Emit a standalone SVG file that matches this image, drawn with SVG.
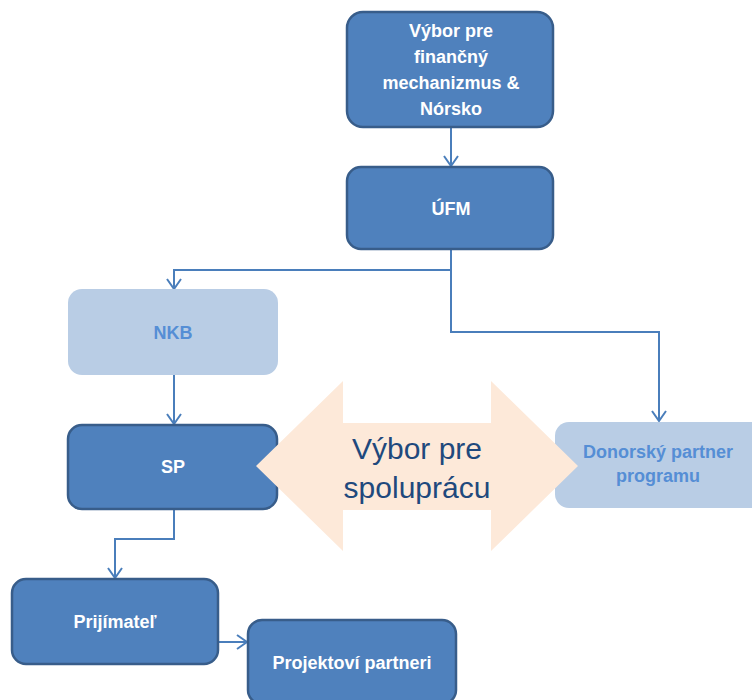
<svg xmlns="http://www.w3.org/2000/svg" width="752" height="700" viewBox="0 0 752 700">
<defs>
<style>
.dark{fill:#4f81bd;stroke:#385d8a;stroke-width:2.5}
.light{fill:#b9cde5;stroke:none}
.tw{fill:#ffffff;font-family:"Liberation Sans",Arial,sans-serif;font-weight:bold;font-size:18px;text-anchor:middle}
.tl{fill:#558ed5;font-family:"Liberation Sans",Arial,sans-serif;font-weight:bold;font-size:18px;text-anchor:middle}
.conn{fill:none;stroke:#4a7ebb;stroke-width:2}
</style>
<marker id="ah" markerWidth="16" markerHeight="16" refX="12" refY="8" orient="auto" markerUnits="userSpaceOnUse">
<path d="M2,1 L12,8 L2,15" fill="none" stroke="#4a7ebb" stroke-width="2"/>
</marker>
</defs>
<rect width="752" height="700" fill="#ffffff"/>
<g id="connectors">
<path class="conn" d="M451,127 V166" marker-end="url(#ah)"/>
<path class="conn" d="M451,249 V270 H174 V289" marker-end="url(#ah)"/>
<path class="conn" d="M451,270 V332 H659 V421" marker-end="url(#ah)"/>
<path class="conn" d="M174,375 V424" marker-end="url(#ah)"/>
<path class="conn" d="M174,509 V539 H115 V578" marker-end="url(#ah)"/>
<path class="conn" d="M218,642 H247" marker-end="url(#ah)"/>
</g>
<g id="n-vybor-fm">
<rect class="dark" x="347" y="12" width="206" height="115" rx="16"/>
<text class="tw" x="451" y="37">Výbor pre</text>
<text class="tw" x="451" y="63">finančný</text>
<text class="tw" x="451" y="89">mechanizmus &amp;</text>
<text class="tw" x="451" y="115">Nórsko</text>
</g>
<g id="n-ufm">
<rect class="dark" x="347" y="167" width="206" height="82" rx="14"/>
<text class="tw" x="451" y="215">ÚFM</text>
</g>
<g id="n-nkb">
<rect class="light" x="68" y="289" width="210" height="86" rx="14"/>
<text class="tl" x="173" y="339">NKB</text>
</g>
<g id="n-sp">
<rect class="dark" x="68" y="425" width="209" height="84" rx="14"/>
<text class="tw" x="173" y="473">SP</text>
</g>
<g id="n-donorsky">
<rect class="light" x="555" y="422" width="215" height="86" rx="14"/>
<text class="tl" x="658" y="458">Donorský partner</text>
<text class="tl" x="658" y="482">programu</text>
</g>
<g id="n-vybor-spolupraca">
<path d="M256,466 L343,381 V423 H491 V381 L578,466 L491,551 V510 H343 V551 Z" fill="#fde9d9"/>
<text x="417" y="459" fill="#1f497d" font-family="'Liberation Sans',Arial,sans-serif" font-size="30" text-anchor="middle">Výbor pre</text>
<text x="417" y="498" fill="#1f497d" font-family="'Liberation Sans',Arial,sans-serif" font-size="30" text-anchor="middle">spoluprácu</text>
</g>
<g id="n-prijimatel">
<rect class="dark" x="12" y="579" width="206" height="85" rx="14"/>
<text class="tw" x="115" y="628">Prijímateľ</text>
</g>
<g id="n-projektovi">
<rect class="dark" x="248" y="620" width="208" height="84" rx="14"/>
<text class="tw" x="352" y="669">Projektoví partneri</text>
</g>
</svg>
